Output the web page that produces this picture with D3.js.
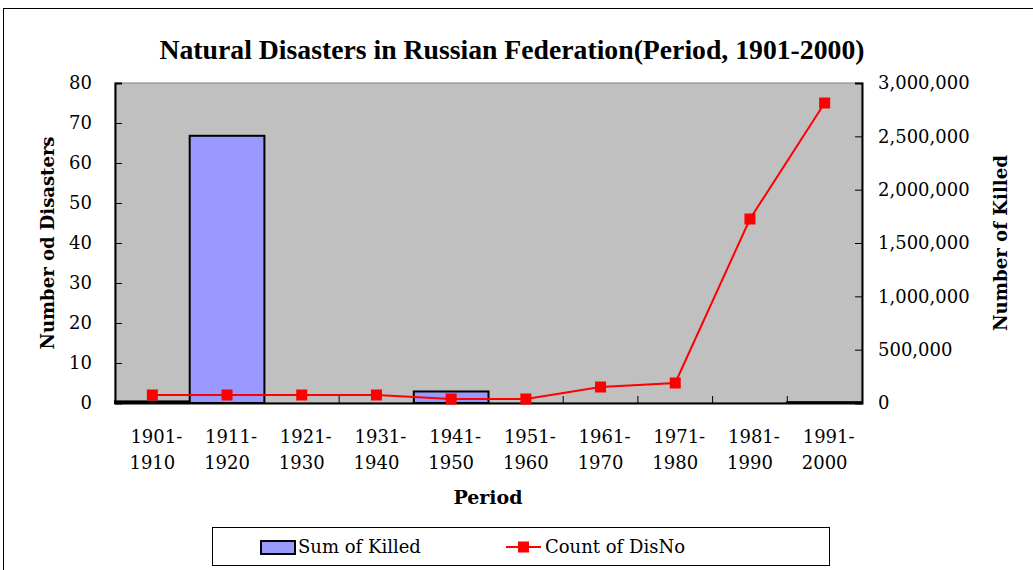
<!DOCTYPE html>
<html>
<head>
<meta charset="utf-8">
<script src="https://cdn.jsdelivr.net/npm/d3@7"></script>
<style>
  body { margin: 0; background: #fff; }
  svg { display: block; font-family: "DejaVu Serif", "Liberation Serif", serif; }
</style>
</head>
<body>
<svg width="1033" height="570"></svg>
<script>
// data
var periods = ["1901-1910", "1911-1920", "1921-1930", "1931-1940", "1941-1950",
               "1951-1960", "1961-1970", "1971-1980", "1981-1990", "1991-2000"];
var killed = [15000, 2505000, 0, 0, 108000, 0, 0, 0, 0, 8000];   // Sum of Killed (right axis)
var disasters = [2, 2, 2, 2, 1, 1, 4, 5, 46, 75];                 // Count of DisNo (left axis)
var leftTicks = [0, 10, 20, 30, 40, 50, 60, 70, 80];
var rightTicks = [0, 500000, 1000000, 1500000, 2000000, 2500000, 3000000];

function main() {
    var svg = d3.select("svg");
    var left = 115, right = 862, top = 83, bottom = 403;

    // outer chart frame
    svg.append("rect")
        .attr("x", 3.5).attr("y", 8.5)
        .attr("width", 1040).attr("height", 580)
        .attr("fill", "none").attr("stroke", "#000").attr("stroke-width", 1);

    var x = d3.scaleBand().domain(periods).range([left, right]).padding(0);
    var yL = d3.scaleLinear().domain([0, 80]).range([bottom, top]);
    var yR = d3.scaleLinear().domain([0, 3000000]).range([bottom, top]);

    // plot area
    svg.append("rect")
        .attr("x", left).attr("y", top)
        .attr("width", right - left).attr("height", bottom - top)
        .attr("fill", "#c0c0c0").attr("stroke", "#808080").attr("stroke-width", 1);

    // bars
    svg.append("g").selectAll("rect")
        .data(killed)
        .enter().append("rect")
        .attr("x", function (d, i) { return x(periods[i]); })
        .attr("y", function (d) { return yR(d); })
        .attr("width", x.bandwidth())
        .attr("height", function (d) { return bottom - yR(d); })
        .attr("fill", "#9999ff")
        .attr("stroke", "#000")
        .attr("stroke-width", 2)
        .style("display", function (d) { return d > 0 ? null : "none"; });

    // left axis
    var axL = svg.append("g").attr("transform", "translate(" + left + ",0)")
        .call(d3.axisLeft(yL).tickValues(leftTicks).tickSize(-7).tickPadding(23));
    // right axis
    var axR = svg.append("g").attr("transform", "translate(" + right + ",0)")
        .call(d3.axisRight(yR).tickValues(rightTicks).tickSize(-7).tickPadding(16)
            .tickFormat(d3.format(",")));
    // bottom axis
    var axB = svg.append("g").attr("transform", "translate(0," + bottom + ")")
        .call(d3.axisBottom(x).tickSize(0).tickFormat(""));
    var bounds = periods.map(function (p) { return x(p); }).slice(1);
    axB.selectAll(".bound").data(bounds).enter().append("line")
        .attr("x1", function (d) { return d; }).attr("x2", function (d) { return d; })
        .attr("y1", 0).attr("y2", -7).attr("stroke", "#000");

    [axL, axR, axB].forEach(function (a) {
        a.select(".domain").attr("stroke", "#000").attr("stroke-width", 2);
        a.selectAll(".tick line").attr("stroke", "#000");
        a.selectAll("text").attr("font-family", "DejaVu Serif").attr("font-size", 18).attr("fill", "#000");
    });

    // x category labels on two lines
    var xl = svg.append("g");
    periods.forEach(function (p) {
        var parts = p.split("-");
        var t = xl.append("text")
            .attr("x", x(p) + x.bandwidth() / 2)
            .attr("y", 443)
            .attr("text-anchor", "middle")
            .attr("font-size", 18);
        t.append("tspan").attr("x", x(p) + x.bandwidth() / 2 + 4).text(parts[0] + "-");
        t.append("tspan").attr("x", x(p) + x.bandwidth() / 2).attr("dy", 26).text(parts[1]);
    });

    // line
    var line = d3.line()
        .x(function (d, i) { return x(periods[i]) + x.bandwidth() / 2; })
        .y(function (d) { return yL(d); });
    svg.append("path")
        .datum(disasters)
        .attr("d", line)
        .attr("fill", "none")
        .attr("stroke", "#ff0000")
        .attr("stroke-width", 2);
    svg.append("g").selectAll("rect")
        .data(disasters)
        .enter().append("rect")
        .attr("x", function (d, i) { return x(periods[i]) + x.bandwidth() / 2 - 5.5; })
        .attr("y", function (d) { return yL(d) - 5.5; })
        .attr("width", 11).attr("height", 11)
        .attr("fill", "#ff0000");

    // titles
    svg.append("text")
        .attr("x", 512).attr("y", 59)
        .attr("text-anchor", "middle")
        .attr("font-family", "Liberation Serif")
        .attr("font-size", 27).attr("font-weight", "bold")
        .attr("textLength", 705).attr("lengthAdjust", "spacingAndGlyphs")
        .text("Natural Disasters in Russian Federation(Period, 1901-2000)");
    svg.append("text")
        .attr("transform", "translate(54,243) rotate(-90)")
        .attr("text-anchor", "middle")
        .attr("font-size", 19).attr("font-weight", "bold")
        .attr("textLength", 213).attr("lengthAdjust", "spacingAndGlyphs")
        .text("Number od Disasters");
    svg.append("text")
        .attr("transform", "translate(1007,243) rotate(-90)")
        .attr("text-anchor", "middle")
        .attr("font-size", 19).attr("font-weight", "bold")
        .attr("textLength", 176).attr("lengthAdjust", "spacingAndGlyphs")
        .text("Number of Killed");
    svg.append("text")
        .attr("x", 488).attr("y", 504)
        .attr("text-anchor", "middle")
        .attr("font-size", 19).attr("font-weight", "bold")
        .text("Period");

    // legend
    var lg = svg.append("g");
    lg.append("rect").attr("x", 212.5).attr("y", 527.5).attr("width", 617).attr("height", 38)
        .attr("fill", "#fff").attr("stroke", "#000");
    lg.append("rect").attr("x", 261).attr("y", 541).attr("width", 34).attr("height", 13)
        .attr("fill", "#9999ff").attr("stroke", "#000").attr("stroke-width", 2);
    lg.append("text").attr("x", 298).attr("y", 553).attr("font-size", 18).text("Sum of Killed");
    lg.append("line").attr("x1", 506).attr("x2", 541).attr("y1", 547).attr("y2", 547)
        .attr("stroke", "#ff0000").attr("stroke-width", 2);
    lg.append("rect").attr("x", 518).attr("y", 541.5).attr("width", 11).attr("height", 11)
        .attr("fill", "#ff0000");
    lg.append("text").attr("x", 545).attr("y", 553).attr("font-size", 18).text("Count of DisNo");
}
main();
</script>
</body>
</html>
